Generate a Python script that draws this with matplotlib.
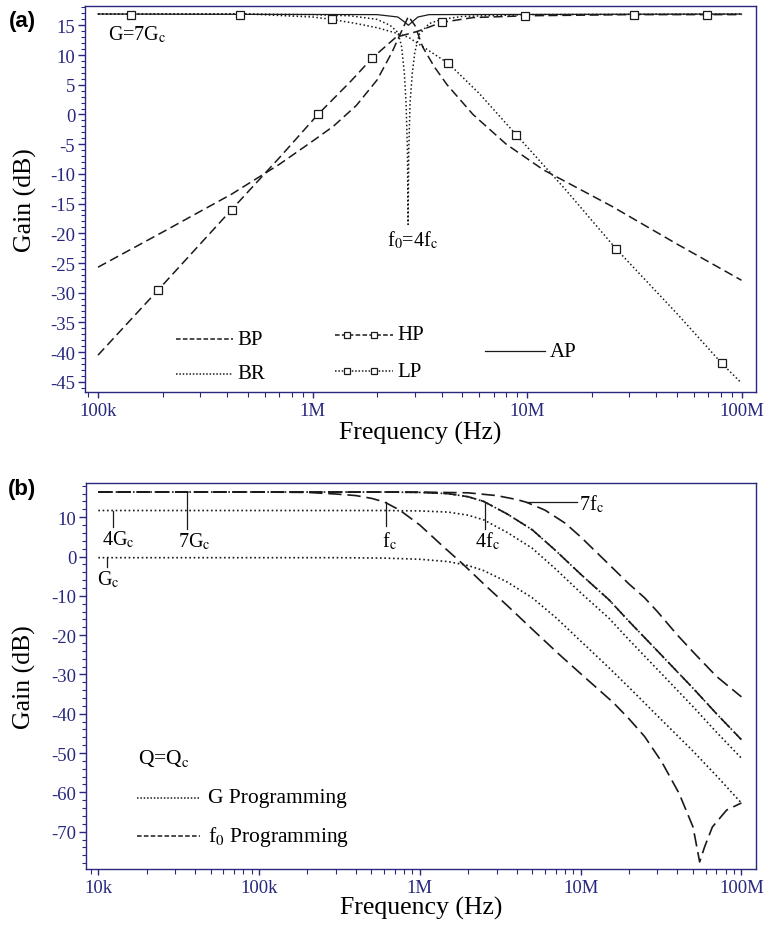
import numpy as np
import matplotlib.pyplot as plt
from matplotlib.ticker import FixedLocator, LogLocator, NullFormatter, MultipleLocator

plt.rcParams['font.family'] = ['Liberation Serif', 'DejaVu Serif']
plt.rcParams['mathtext.fontset'] = 'stix'
plt.rcParams['axes.unicode_minus'] = False

# ---- panel (a): BP / BR / HP / LP / AP at G = 7Gc, f0 = 4fc ----
bp_f = [1e5, 2e5, 4.2e5, 7e5, 1e6, 1.25e6, 1.6e6, 2e6, 2.35e6, 2.6e6, 2.8e6, 3.0e6,
        3.27e6, 3.7e6, 4.24e6, 5.6e6, 8e6, 11.9e6, 25e6, 50e6, 1e8]
bp_db = [-25.7, -19.8, -13.4, -8.4, -4.5, -2.0, 1.5, 5.8, 10.5, 14.0, 16.5, 15.0,
         11.3, 8.0, 5.0, 0.0, -5.0, -9.3, -15.5, -21.8, -27.9]

br_f = [1e5, 5e5, 1e6, 1.5e6, 2e6, 2.3e6, 2.5e6, 2.6e6, 2.68e6, 2.73e6, 2.77e6, 2.79e6,
        2.81e6, 2.85e6, 2.92e6, 3.0e6, 3.15e6, 3.5e6, 4e6, 5e6, 1e7, 1e8]
br_db = [16.9, 16.9, 16.8, 16.6, 16.0, 15.0, 13.8, 11.5, 7.0, 2.0, -6.0, -18.5,
         -6.0, 2.0, 7.0, 10.5, 13.5, 15.3, 16.0, 16.5, 16.8, 16.9]

hp_f = [1e5, 1.9e5, 4.2e5, 7e5, 1.06e6, 1.5e6, 1.9e6, 2.45e6, 3.1e6, 4e6, 5.6e6, 9.8e6, 3e7, 1e8]
hp_db = [-40.5, -29.6, -16.0, -7.3, 0.0, 5.5, 9.5, 13.0, 14.0, 15.5, 16.3, 16.6, 16.8, 16.8]
hp_mark_f = [1.9e5, 4.2e5, 1.06e6, 1.9e6, 4e6, 9.8e6, 3.16e7, 6.9e7]
hp_mark_db = [-29.6, -16.0, 0.0, 9.5, 15.5, 16.6, 16.7, 16.7]

lp_f = [1e5, 5e5, 1e6, 1.23e6, 1.6e6, 2e6, 2.4e6, 2.8e6, 3.3e6, 4.3e6, 6e6, 8.9e6,
        15e6, 26e6, 50e6, 81e6, 1e8]
lp_db = [16.9, 16.9, 16.4, 16.0, 15.3, 14.6, 13.8, 13.0, 11.3, 8.6, 3.5, -3.4,
         -12.5, -22.6, -33.5, -41.9, -45.2]
lp_mark_f = [1.43e5, 4.6e5, 1.23e6, 4.3e6, 8.9e6, 2.6e7, 8.1e7]
lp_mark_db = [16.8, 16.8, 16.0, 8.6, -3.4, -22.6, -41.9]

ap_f = [1e5, 2e6, 2.5e6, 2.7e6, 2.8e6, 2.9e6, 3.1e6, 3.5e6, 1e8]
ap_db = [16.9, 16.8, 16.4, 15.5, 15.0, 15.5, 16.4, 16.8, 16.9]

# ---- panel (b): G programming (f0 = 4fc) and f0 programming (G = 7Gc) ----
b_f = [1e4, 1e5, 3e5, 6e5, 1e6, 1.5e6, 2e6, 2.5e6, 3.5e6, 5e6, 7e6, 1e7,
       1.5e7, 2e7, 3e7, 5e7, 7e7, 1e8]
g1_db = [-0.3, -0.3, -0.3, -0.4, -0.7, -1.3, -2.3, -3.6, -6.5, -10.5, -15.5, -21.5,
         -28.3, -33.3, -40.5, -49.5, -55.8, -62.7]
g4_db = [11.7, 11.7, 11.7, 11.7, 11.6, 11.3, 10.5, 9.3, 6.1, 2.1, -3.2, -9.2,
         -15.7, -21.2, -28.7, -38.2, -44.7, -51.3]
g7_db = [16.4, 16.4, 16.4, 16.4, 16.3, 16.0, 15.2, 14.0, 10.8, 6.8, 1.5, -4.5,
         -11.0, -16.5, -24.0, -33.5, -40.0, -46.6]
f4_db = [16.4, 16.4, 16.4, 16.4, 16.3, 16.0, 15.2, 14.0, 10.8, 6.8, 1.5, -4.5,
         -11.0, -16.5, -24.0, -33.5, -40.0, -46.6]

fc_f = [1e4, 1e5, 2e5, 3e5, 4e5, 5e5, 6e5, 7.5e5, 1e6, 1.4e6, 1.86e6, 2.5e6, 3.5e6,
        5e6, 7.4e6, 1e7, 1.6e7, 2e7, 2.5e7, 3.2e7, 4.1e7, 5e7, 5.5e7, 5.9e7, 6.6e7, 8.1e7, 1e8]
fc_db = [16.4, 16.4, 16.3, 15.9, 15.5, 14.8, 13.9, 11.8, 8.0, 2.5, -2.0, -7.0, -12.5,
         -18.5, -25.0, -29.8, -37.2, -41.3, -45.8, -52.3, -60.3, -68.8, -77.7, -73.9, -68.8, -64.5, -62.7]

f7_f = [1e4, 1e5, 1e6, 2e6, 3e6, 4e6, 4.6e6, 6e6, 8e6, 1e7, 1.5e7, 2e7, 2.5e7, 3e7,
        4e7, 5.2e7, 7e7, 1e8]
f7_db = [16.4, 16.4, 16.4, 16.2, 15.5, 14.5, 13.8, 11.8, 8.5, 5.0, -2.0, -7.0, -10.5, -14.0,
         -20.0, -25.0, -30.5, -35.7]

a_ticks = [1e5, 1e6, 1e7, 1e8]
a_ticklabels = ['100k', '1M', '10M', '100M']
b_ticks = [1e4, 1e5, 1e6, 1e7, 1e8]
b_ticklabels = ['10k', '100k', '1M', '10M', '100M']

NAVY = '#28287e'
LINE = '#1a1a1a'
DOT = dict(dashes=(1.0, 1.6))
DASH = dict(dashes=(6, 3))
LONGDASH = dict(dashes=(8, 3.5))


def style_axes(ax, ticks, labels, ymaj, ymin):
    ax.set_xscale('log')
    for sp in ax.spines.values():
        sp.set_color(NAVY)
        sp.set_linewidth(1.0)
    ax.xaxis.set_major_locator(FixedLocator(ticks))
    ax.set_xticklabels(labels)
    ax.xaxis.set_minor_locator(LogLocator(base=10, subs=np.arange(2, 10)))
    ax.xaxis.set_minor_formatter(NullFormatter())
    ax.yaxis.set_major_locator(MultipleLocator(ymaj))
    ax.yaxis.set_minor_locator(MultipleLocator(ymin))
    ax.tick_params(axis='both', which='both', direction='out', color=NAVY,
                   labelcolor=NAVY, labelsize=13.5, top=False, right=False)
    ax.tick_params(axis='y', which='major', length=5, width=1, pad=2)
    ax.tick_params(axis='y', which='minor', length=3, width=0.8)
    ax.tick_params(axis='x', which='major', length=4, width=1, pad=3)
    ax.tick_params(axis='x', which='minor', length=3.5, width=0.8)
    ax.set_xlabel('Frequency (Hz)', fontsize=18.5)
    ax.set_ylabel('Gain (dB)', fontsize=18.5)


fig = plt.figure(figsize=(7.69, 9.28), dpi=100)

# panel (a)
ax = fig.add_axes([85 / 769, 1 - 393 / 928, 671 / 769, 386 / 928])
ax.plot(bp_f, bp_db, color=LINE, lw=1.1, **DASH)
ax.plot(br_f, br_db, color=LINE, lw=1.1, **DOT)
ax.plot(ap_f, ap_db, color=LINE, lw=0.9)
ax.plot(hp_f, hp_db, color=LINE, lw=1.1, **DASH)
ax.plot(lp_f, lp_db, color=LINE, lw=1.1, **DOT)
ax.plot(hp_mark_f, hp_mark_db, ls='none', marker='s', ms=5.5, mfc='white', mec=LINE, mew=0.9)
ax.plot(lp_mark_f, lp_mark_db, ls='none', marker='s', ms=5.5, mfc='white', mec=LINE, mew=0.9)
ax.set_xlim(10 ** (5 - 13 / 214.5), 10 ** (5 + 658 / 214.5))
ax.set_ylim(-46.7, 18.25)
style_axes(ax, a_ticks, a_ticklabels, 5, 1)
ax.yaxis.set_label_coords(-0.072, 0.5)
ax.xaxis.set_label_coords(0.5, -0.075)

ax.text(1.11e5, 13.6, 'G=7G$_{\\mathrm{c}}$', fontsize=14.5, va='center', ha='left')
ax.text(2.22e6, -21.0, 'f$_{0}$=4f$_{\\mathrm{c}}$', fontsize=14.5, va='center', ha='left')

# legend of panel (a), drawn by hand
tr = ax.transAxes
ax.plot([0.136, 0.221], [0.137, 0.137], transform=tr, color=LINE, lw=1.1, dashes=(3, 1.5))
ax.text(0.227, 0.137, 'BP', transform=tr, fontsize=15, va='center')
ax.plot([0.136, 0.221], [0.047, 0.047], transform=tr, color=LINE, lw=1.1, dashes=(1, 1.2))
ax.text(0.227, 0.047, 'BR', transform=tr, fontsize=15, va='center')
ax.plot([0.373, 0.459], [0.148, 0.148], transform=tr, color=LINE, lw=1.1, dashes=(3, 1.5))
ax.plot([0.391, 0.431], [0.148, 0.148], transform=tr, ls='none', marker='s', ms=5, mfc='white', mec=LINE, mew=0.9)
ax.text(0.465, 0.148, 'HP', transform=tr, fontsize=15, va='center')
ax.plot([0.373, 0.459], [0.054, 0.054], transform=tr, color=LINE, lw=1.1, dashes=(1, 1.2))
ax.plot([0.391, 0.431], [0.054, 0.054], transform=tr, ls='none', marker='s', ms=5, mfc='white', mec=LINE, mew=0.9)
ax.text(0.465, 0.054, 'LP', transform=tr, fontsize=15, va='center')
ax.plot([0.596, 0.686], [0.106, 0.106], transform=tr, color=LINE, lw=0.9)
ax.text(0.693, 0.106, 'AP', transform=tr, fontsize=15, va='center')

# panel (b)
bx = fig.add_axes([86 / 769, 1 - 870 / 928, 670 / 769, 386 / 928])
bx.plot(b_f, g1_db, color=LINE, lw=1.2, **DOT)
bx.plot(b_f, g4_db, color=LINE, lw=1.2, **DOT)
bx.plot(b_f, g7_db, color=LINE, lw=1.2, **DOT)
bx.plot(fc_f, fc_db, color=LINE, lw=1.2, **LONGDASH)
bx.plot(b_f, f4_db, color=LINE, lw=1.2, **LONGDASH)
bx.plot(f7_f, f7_db, color=LINE, lw=1.2, **LONGDASH)
bx.set_xlim(10 ** 3.9235, 10 ** 8.0908)
bx.set_ylim(-79.5, 18.7)
style_axes(bx, b_ticks, b_ticklabels, 10, 2)
bx.yaxis.set_label_coords(-0.074, 0.5)
bx.xaxis.set_label_coords(0.5, -0.071)

# pointer labels
kw = dict(color=LINE, lw=0.9)
bx.plot([1.24e4, 1.24e4], [11.6, 7.5], **kw)
bx.text(1.34e4, 4.4, '4G$_{\\mathrm{c}}$', fontsize=14.5, ha='center', va='center')
bx.plot([3.57e4, 3.57e4], [16.4, 7.0], **kw)
bx.text(3.95e4, 4.0, '7G$_{\\mathrm{c}}$', fontsize=14.5, ha='center', va='center')
bx.plot([1.14e4, 1.14e4], [-0.1, -2.7], **kw)
bx.text(1.16e4, -5.6, 'G$_{\\mathrm{c}}$', fontsize=14.5, ha='center', va='center')
bx.plot([6.17e5, 6.17e5], [13.9, 7.8], **kw)
bx.text(6.45e5, 4.0, 'f$_{\\mathrm{c}}$', fontsize=14.5, ha='center', va='center')
bx.plot([2.55e6, 2.55e6], [13.9, 7.0], **kw)
bx.text(2.62e6, 4.0, '4f$_{\\mathrm{c}}$', fontsize=14.5, ha='center', va='center')
bx.plot([4.64e6, 9.5e6], [13.9, 13.9], **kw)
bx.text(9.8e6, 13.4, '7f$_{\\mathrm{c}}$', fontsize=14.5, ha='left', va='center')

tr = bx.transAxes
bx.text(0.078, 0.290, 'Q=Q$_{\\mathrm{c}}$', transform=tr, fontsize=15.5, va='center')
bx.plot([0.076, 0.170], [0.184, 0.184], transform=tr, color=LINE, lw=1.1, dashes=(1, 1.2))
bx.text(0.182, 0.184, 'G Programming', transform=tr, fontsize=15.5, va='center')
bx.plot([0.076, 0.170], [0.086, 0.086], transform=tr, color=LINE, lw=1.1, dashes=(3, 1.5))
bx.text(0.182, 0.086, 'f$_{0}$ Programming', transform=tr, fontsize=15.5, va='center')

fig.text(22 / 769, 1 - 22 / 928, '(a)', family='Liberation Sans', weight='bold', fontsize=16,
         ha='center', va='center')
fig.text(22 / 769, 1 - 490 / 928, '(b)', family='Liberation Sans', weight='bold', fontsize=16,
         ha='center', va='center')

fig.savefig('out.png', dpi=100)
